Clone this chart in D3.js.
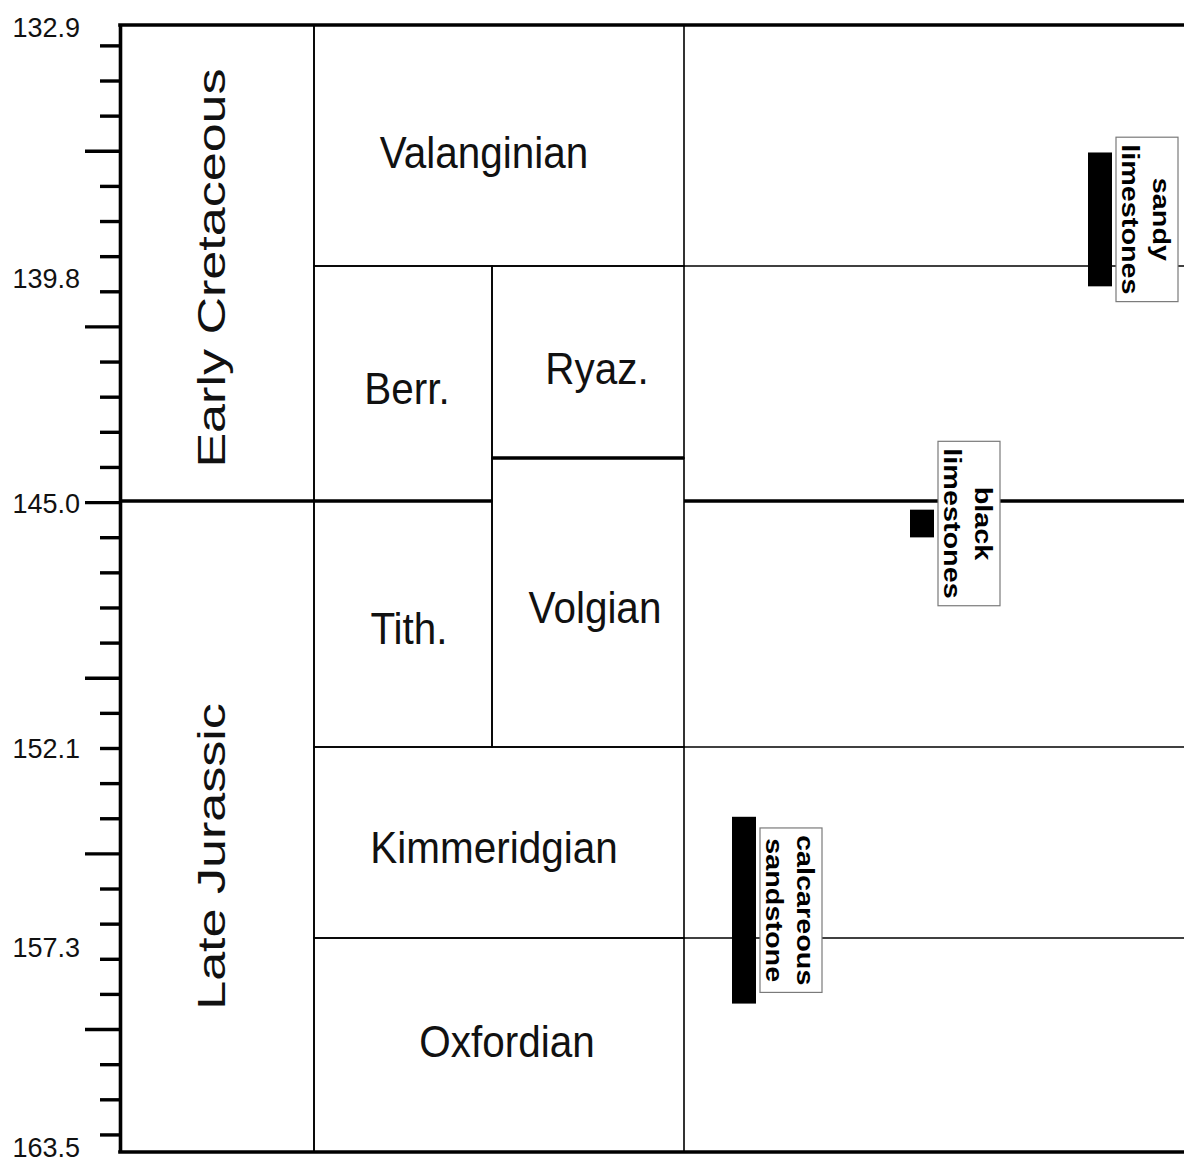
<!DOCTYPE html>
<html>
<head>
<meta charset="utf-8">
<script src="https://cdn.jsdelivr.net/npm/d3@7"></script>
<style>
    body { margin: 0; background: #fff; }
    svg { display: block; font-family: "Liberation Sans", Arial, sans-serif; }
</style>
</head>
<body>
<svg id="chart"></svg>
<script>
// ages in Ma
const eraNames = ["Early Cretaceous", "Late Jurassic"];
const eraTop = [132.9, 145.0];
const eraBase = [145.0, 163.5];

const stageNames = ["Valanginian", "Berr.", "Ryaz.", "Tith.", "Volgian", "Kimmeridgian", "Oxfordian"];
const stageTop = [132.9, 139.8, 139.8, 145.0, 144.05, 152.1, 157.3];
const stageBase = [139.8, 145.0, 144.05, 152.1, 152.1, 157.3, 163.5];
const stageColumn = ["full", "left", "right", "left", "right", "full", "full"];
// stages whose top is the Jurassic/Cretaceous boundary (drawn heavy)
const boundaryStages = ["Tith.", "Volgian"];

const boundaryAges = [132.9, 139.8, 145.0, 152.1, 157.3, 163.5];
const boundaryLabels = ["132.9", "139.8", "145.0", "152.1", "157.3", "163.5"];

const lithLines = [["calcareous", "sandstone"], ["black", "limestones"], ["sandy", "limestones"]];
const lithTop = [154.0, 145.25, 136.55];
const lithBase = [159.2, 146.05, 140.25];

const width = 1184, height = 1162;
const svg = d3.select("#chart").attr("width", width).attr("height", height);

// stage column is schematic, so boundaries get their own piecewise scale
const yAge = d3.scaleLinear().domain(boundaryAges).range([25, 266, 501, 747, 938, 1152]);
const yLabel = d3.scaleLinear().domain(boundaryAges).range([27, 278, 503, 748, 947, 1147]);
// the tick ruler is plain linear, 1 Ma per tick
const yTick = d3.scaleLinear().domain([131.42, 163.5]).range([25, 1152]);

const cols = {
    era: [120, 314],
    full: [314, 684],
    left: [314, 492],
    right: [492, 684],
    track: [684, 1184]
};
const thin = 1.6, thick = 3.6;

const grid = svg.append("g").attr("class", "grid")
    .attr("fill", "none").attr("stroke", "#000");

// era boxes
grid.selectAll("rect.era")
    .data(eraNames)
    .enter().append("rect")
    .attr("class", "era")
    .attr("x", cols.era[0])
    .attr("width", cols.era[1] - cols.era[0])
    .attr("y", (d, i) => yAge(eraTop[i]))
    .attr("height", (d, i) => yAge(eraBase[i]) - yAge(eraTop[i]))
    .attr("stroke-width", thin);

// stage boxes
grid.selectAll("rect.stage")
    .data(stageNames)
    .enter().append("rect")
    .attr("class", "stage")
    .attr("x", (d, i) => cols[stageColumn[i]][0])
    .attr("width", (d, i) => cols[stageColumn[i]][1] - cols[stageColumn[i]][0])
    .attr("y", (d, i) => yAge(stageTop[i]))
    .attr("height", (d, i) => yAge(stageBase[i]) - yAge(stageTop[i]))
    .attr("stroke-width", thin);

// boundaries carried across the lithology track
const trackAges = boundaryAges.slice(1, -1);
grid.selectAll("line.track")
    .data(trackAges)
    .enter().append("line")
    .attr("x1", cols.track[0]).attr("x2", cols.track[1])
    .attr("y1", d => yAge(d)).attr("y2", d => yAge(d))
    .attr("stroke-width", d => d === eraBase[0] ? thick : thin);

// heavy J/K boundary
grid.append("line")
    .attr("x1", cols.era[0]).attr("x2", cols.era[1])
    .attr("y1", yAge(eraBase[0])).attr("y2", yAge(eraBase[0]))
    .attr("stroke-width", thick);
stageNames.forEach((name, i) => {
    if (!boundaryStages.includes(name)) return;
    const c = cols[stageColumn[i]];
    grid.append("line")
        .attr("x1", c[0]).attr("x2", c[1])
        .attr("y1", yAge(stageTop[i])).attr("y2", yAge(stageTop[i]))
        .attr("stroke-width", thick);
});

// frame top / bottom
[boundaryAges[0], boundaryAges[boundaryAges.length - 1]].forEach(a => {
    grid.append("line")
        .attr("x1", cols.era[0] - 1.8).attr("x2", width)
        .attr("y1", yAge(a)).attr("y2", yAge(a))
        .attr("stroke-width", thick);
});

// tick ruler
const axis = svg.append("g")
    .attr("transform", `translate(${cols.era[0]},0)`)
    .call(d3.axisLeft(yTick)
        .tickValues(d3.range(132, 164))
        .tickSize(20)
        .tickSizeOuter(0)
        .tickFormat(""));
axis.select(".domain").attr("stroke-width", thick);
axis.selectAll(".tick line")
    .attr("stroke-width", 3.4)
    .attr("x2", d => d % 5 === 0 ? -35 : -20);

// age labels
svg.append("g").selectAll("text")
    .data(boundaryLabels)
    .enter().append("text")
    .attr("x", 80)
    .attr("y", (d, i) => yLabel(boundaryAges[i]) + 9.5)
    .attr("text-anchor", "end")
    .attr("font-size", 27)
    .attr("fill", "#111")
    .text(d => d);

// era labels (rotated)
const eraShift = [5, 30];
svg.append("g").selectAll("text")
    .data(eraNames)
    .enter().append("text")
    .attr("transform", (d, i) => {
        const mid = (yAge(eraTop[i]) + yAge(eraBase[i])) / 2 + eraShift[i];
        return `translate(225,${mid}) rotate(-90) scale(1.37,1)`;
    })
    .attr("text-anchor", "middle")
    .attr("font-size", 38)
    .attr("fill", "#111")
    .text(d => d);

// stage labels (small nudges to sit where the original puts them)
const stageNudge = [[-15, 2], [4, 0], [9, 2], [6, 0], [7, 0], [-5, 0], [8, -8]];
svg.append("g").selectAll("text")
    .data(stageNames)
    .enter().append("text")
    .attr("transform", (d, i) => {
        const c = cols[stageColumn[i]];
        const cx = (c[0] + c[1]) / 2 + stageNudge[i][0];
        const mid = (yAge(stageTop[i]) + yAge(stageBase[i])) / 2 + stageNudge[i][1];
        return `translate(${cx},${mid + 20}) scale(0.92,1)`;
    })
    .attr("text-anchor", "middle")
    .attr("font-size", 44)
    .attr("fill", "#111")
    .text(d => d);

// lithology ranges
const xLith = d3.scalePoint().domain(d3.range(lithLines.length)).range([744, 1100]);
const barW = 24, boxW = 62, lineGap = 31, stretch = 1.2;

svg.append("g").selectAll("rect")
    .data(lithLines)
    .enter().append("rect")
    .attr("x", (d, i) => xLith(i) - barW / 2)
    .attr("width", barW)
    .attr("y", (d, i) => yAge(lithTop[i]))
    .attr("height", (d, i) => yAge(lithBase[i]) - yAge(lithTop[i]))
    .attr("fill", "#000");

lithLines.forEach((lines, i) => {
    const bx = xLith(i) + barW / 2 + 4;
    const cy = (yAge(lithTop[i]) + yAge(lithBase[i])) / 2;
    const g = svg.append("g");
    const box = g.append("rect")
        .attr("x", bx).attr("width", boxW)
        .attr("fill", "#fff")
        .attr("stroke", "#7a7a7a")
        .attr("stroke-width", 1.2);
    const tg = g.append("g")
        .attr("transform", `translate(${bx + 6 + lineGap},${cy}) rotate(90)`);
    let maxLen = 0;
    lines.forEach((t, j) => {
        const txt = tg.append("text")
            .attr("transform", `scale(${stretch},1)`)
            .attr("y", j * lineGap)
            .attr("text-anchor", "middle")
            .attr("font-size", 24)
            .attr("font-weight", "bold")
            .attr("fill", "#000")
            .text(t);
        maxLen = Math.max(maxLen, txt.node().getComputedTextLength() * stretch);
    });
    const h = maxLen + 14;
    box.attr("y", cy - h / 2).attr("height", h);
});
</script>
</body>
</html>
